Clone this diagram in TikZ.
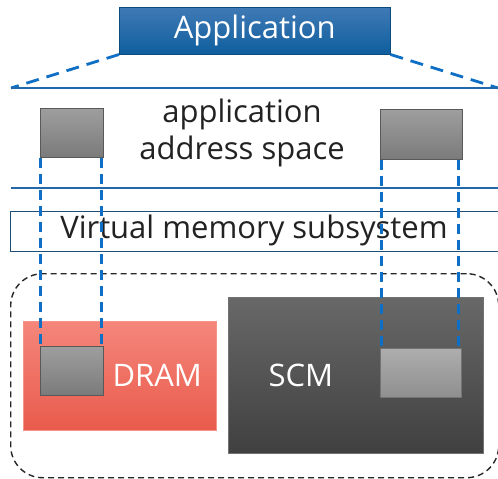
\documentclass[tikz,border=0pt]{standalone}
\usepackage{fontspec}
\setmainfont{Open Sans}
\usetikzlibrary{positioning}
\definecolor{appTop}{HTML}{3F7AB5}
\definecolor{appBot}{HTML}{0F5E9E}
\definecolor{lineBlue}{HTML}{2468AC}
\definecolor{dashBlue}{HTML}{0E6FC4}
\definecolor{vmBorder}{HTML}{1F4E79}
\definecolor{dramTop}{HTML}{F5867B}
\definecolor{dramBot}{HTML}{E85B4C}
\definecolor{scmTop}{HTML}{686868}
\definecolor{scmBot}{HTML}{404040}
\definecolor{txt}{HTML}{222222}
\tikzset{
  pagebox/.style={draw=black!65, line width=0.8pt, top color=black!38, bottom color=black!52, inner sep=0pt, minimum width=63pt, minimum height=49pt},
  pageboxlight/.style={draw=black!55, line width=0.8pt, top color=black!32, bottom color=black!44, inner sep=0pt},
  blueDash/.style={dashBlue, line width=3pt, dash pattern=on 10pt off 6pt},
  appDash/.style={dashBlue, line width=2.8pt, dash pattern=on 13pt off 8pt},
  sep/.style={lineBlue, line width=2.4pt},
}
\begin{document}
\begin{tikzpicture}[x=1pt,y=-1pt]
\useasboundingbox (0,0) rectangle (498,479);
% Application box
\node[top color=appTop, bottom color=appBot, draw=appBot!80!black, line width=0.5pt, minimum width=271pt, minimum height=47pt, inner sep=0pt, anchor=north west, text=white, font=\fontsize{31}{34}\selectfont] (app) at (119,7) {Application};
\coordinate (ltip) at (11,88);
\coordinate (rtip) at (498,88);
\draw[appDash] (app.south west) -- (ltip);
\draw[appDash] (app.south east) -- (rtip);
% separators
\coordinate (s1l) at (11,88);
\coordinate (s1r) at (498,88);
\coordinate (s2l) at (11,188);
\coordinate (s2r) at (498,188);
\draw[sep] (s1l) -- (s1r);
\draw[sep] (s2l) -- (s2r);
% address space text
\node[text=txt, align=center, font=\fontsize{31}{37}\selectfont] (aas) at (242,133) {application\\address space};
% top page boxes
\node[pagebox, anchor=north west] (tl) at (40,108) {};
\node[pagebox, anchor=north west, minimum width=82pt, minimum height=50pt] (tr) at (380,109) {};
% virtual memory box
\node[draw=vmBorder, line width=1pt, fill=white, minimum width=500pt, minimum height=40pt, anchor=north west, inner sep=0pt, text=txt] (vm) at (10,211) {};
\node[text=txt, font=\fontsize{31}{34}\selectfont] (vmt) at (254,230) {Virtual memory subsystem};
% dashed rounded container
\node[draw=black!85, line width=1.4pt, dash pattern=on 6pt off 4pt, rounded corners=32pt, minimum width=488pt, minimum height=204pt, anchor=north west, inner sep=0pt] (cont) at (10,273) {};
% DRAM
\node[top color=dramTop, bottom color=dramBot, draw=dramTop!90!white, line width=0.5pt, minimum width=193pt, minimum height=109pt, anchor=north west, inner sep=0pt] (dram) at (23,321) {};
\node[text=white, font=\fontsize{31}{34}\selectfont, anchor=west] (dramt) at (109,375) {DRAM};
% SCM
\node[top color=scmTop, bottom color=scmBot, draw=black!55, line width=0.5pt, minimum width=255pt, minimum height=156pt, anchor=north west, inner sep=0pt] (scm) at (228,297) {};
\node[text=white, font=\fontsize{31}{34}\selectfont, anchor=west] (scmt) at (265,375) {SCM};
% lower page boxes
\node[pagebox, anchor=north west] (dl) at (40,346) {};
\node[pageboxlight, anchor=north west, minimum width=81pt, minimum height=49pt] (sl) at (380,348) {};
% blue dashed verticals
\draw[blueDash] ([xshift=0.5pt]tl.south west) -- ([xshift=0.5pt]dl.north west);
\draw[blueDash] ([xshift=-2pt]tl.south east) -- ([xshift=-2pt]tl.south east |- dl.north);
\draw[blueDash] ([xshift=1pt]tr.south west) -- ([xshift=1pt]tr.south west |- sl.north);
\draw[blueDash] ([xshift=-4pt]tr.south east) -- ([xshift=-4pt]tr.south east |- sl.north);
\end{tikzpicture}
\end{document}
